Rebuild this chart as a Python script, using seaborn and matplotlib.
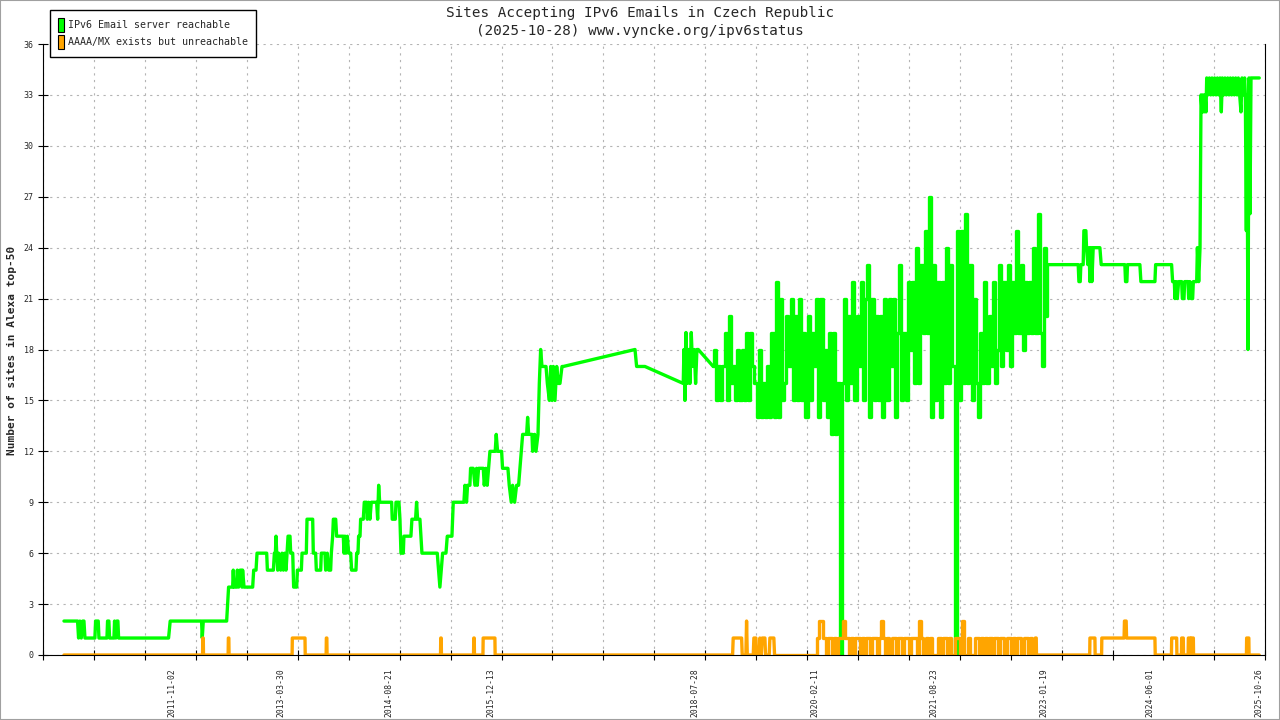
import matplotlib
matplotlib.use("Agg")
import matplotlib.pyplot as plt
import matplotlib.dates as mdates
from matplotlib.patches import Patch, Rectangle
from matplotlib.ticker import FixedLocator, FixedFormatter, NullFormatter
import numpy as np
import pandas as pd
import seaborn as sns

# --- data (x = decimal year, y = number of sites) ---
reach_early = [
    (2010.451, 2), (2010.626, 2), (2010.639, 1), (2010.656, 2), (2010.674, 1), (2010.691, 2), (2010.708, 2), (2010.721, 1),
    (2010.849, 1), (2010.858, 2), (2010.892, 2), (2010.901, 1),
    (2011.004, 1), (2011.012, 2), (2011.029, 2), (2011.038, 1),
    (2011.094, 1), (2011.102, 2), (2011.119, 1), (2011.132, 2), (2011.145, 2), (2011.154, 1),
    (2011.797, 1), (2011.818, 2), (2012.221, 2), (2012.230, 1), (2012.243, 2),
    (2012.543, 2), (2012.556, 3), (2012.568, 4), (2012.620, 4), (2012.628, 5), (2012.637, 4),
    (2012.671, 4), (2012.680, 5), (2012.697, 4), (2012.714, 5), (2012.731, 5), (2012.740, 4), (2012.748, 5), (2012.766, 4),
    (2012.877, 4), (2012.890, 5), (2012.920, 5), (2012.933, 6), (2013.057, 6), (2013.066, 5),
    (2013.143, 5), (2013.156, 6), (2013.169, 6), (2013.177, 7), (2013.186, 6), (2013.199, 5), (2013.211, 6),
    (2013.237, 5), (2013.254, 6), (2013.272, 5), (2013.289, 6), (2013.306, 5), (2013.319, 6), (2013.332, 7),
    (2013.357, 7), (2013.366, 6), (2013.392, 6), (2013.404, 4), (2013.443, 4), (2013.452, 5),
    (2013.503, 5), (2013.512, 6), (2013.567, 6), (2013.576, 8), (2013.649, 8), (2013.657, 6),
    (2013.687, 6), (2013.696, 5), (2013.752, 5), (2013.760, 6), (2013.807, 6), (2013.816, 5), (2013.837, 6), (2013.855, 5),
    (2013.880, 5), (2013.889, 6), (2013.906, 7), (2013.915, 8), (2013.945, 8), (2013.957, 7),
    (2014.043, 7), (2014.052, 6), (2014.065, 7), (2014.078, 6), (2014.095, 7), (2014.112, 6),
    (2014.138, 6), (2014.150, 5), (2014.206, 5), (2014.215, 6), (2014.232, 6), (2014.240, 7), (2014.258, 7), (2014.266, 8),
    (2014.300, 8), (2014.313, 9), (2014.343, 9), (2014.352, 8), (2014.369, 9), (2014.386, 8), (2014.403, 9),
    (2014.429, 9), (2014.472, 9), (2014.485, 8), (2014.498, 10), (2014.511, 9),
    (2014.665, 9), (2014.673, 8), (2014.712, 8), (2014.721, 9), (2014.759, 9), (2014.772, 8), (2014.785, 6),
    (2014.815, 6), (2014.823, 7), (2014.913, 7), (2014.926, 8), (2014.973, 8), (2014.986, 9), (2014.999, 8),
    (2015.029, 8), (2015.042, 7), (2015.055, 6), (2015.252, 6), (2015.269, 5), (2015.286, 4), (2015.304, 5), (2015.321, 6),
    (2015.364, 6), (2015.381, 7), (2015.441, 7), (2015.449, 8), (2015.458, 9),
    (2015.595, 9), (2015.608, 10), (2015.629, 9), (2015.642, 10), (2015.672, 10), (2015.681, 11),
    (2015.715, 11), (2015.737, 10), (2015.758, 11), (2015.767, 10), (2015.784, 11),
    (2015.844, 11), (2015.857, 10), (2015.878, 11), (2015.895, 10), (2015.912, 11), (2015.930, 12),
    (2015.998, 12), (2016.011, 13), (2016.028, 12), (2016.080, 12), (2016.092, 11),
    (2016.161, 11), (2016.178, 10), (2016.204, 9), (2016.221, 10), (2016.247, 9), (2016.272, 10),
    (2016.298, 10), (2016.315, 11), (2016.332, 12), (2016.350, 13), (2016.401, 13), (2016.414, 14), (2016.427, 13),
    (2016.470, 13), (2016.478, 12), (2016.504, 13), (2016.521, 12), (2016.547, 13), (2016.564, 16), (2016.581, 18),
    (2016.598, 17), (2016.650, 17), (2016.667, 16), (2016.693, 15), (2016.710, 17), (2016.727, 15), (2016.744, 17),
    (2016.765, 15), (2016.787, 17), (2016.808, 16),
    (2016.829, 16), (2016.855, 17), (2016.872, 17), (2017.794, 18), (2017.815, 17), (2017.922, 17),
    (2018.415, 16), (2018.424, 18), (2018.437, 15), (2018.450, 19), (2018.467, 16), (2018.484, 18), (2018.501, 16),
    (2018.518, 19), (2018.535, 17), (2018.557, 18), (2018.574, 16), (2018.591, 18), (2018.608, 18), (2018.801, 17),
]

# noisy period, one value every 10 days
reach_dense_start = 2018.810
dense_step_days = 10
reach_dense = [
    18, 15, 17, 15, 17, 19, 15, 20, 16, 17,
    15, 18, 15, 18, 15, 19, 15, 19, 17, 16,
    14, 18, 14, 16, 14, 17, 14, 19, 14, 22,
    14, 21, 15, 16, 20, 17, 21, 15, 20, 15,
    21, 15, 19, 14, 20, 15, 19, 17, 21, 14,
    21, 15, 18, 14, 19, 13, 19, 13, 16, 0,
    16, 21, 15, 20, 16, 22, 15, 20, 17, 22,
    15, 21, 23, 14, 21, 15, 20, 15, 20, 14,
    21, 15, 21, 17, 21, 14, 19, 23, 15, 19,
    15, 22, 18, 22, 16, 24, 16, 23, 19, 25,
    19, 27, 14, 23, 15, 22, 14, 22, 16, 24,
    16, 23, 17, 0, 25, 15, 25, 16, 26, 16,
    23, 15, 21, 16, 14, 19, 16, 22, 16, 20,
    17, 22, 16, 18, 23, 17, 22, 18, 23, 17,
    22, 19, 25, 19, 23, 18, 22, 19, 22, 19,
    24, 19, 26, 19, 17, 24, 20,
]

reach_late = [
    (2023.096, 23), (2023.495, 23), (2023.504, 22), (2023.521, 22), (2023.529, 23), (2023.559, 23), (2023.568, 25), (2023.594, 25),
    (2023.602, 24), (2023.619, 23), (2023.636, 24), (2023.645, 22), (2023.662, 24), (2023.671, 22), (2023.688, 24), (2023.774, 24),
    (2023.791, 23), (2024.095, 23), (2024.104, 22), (2024.121, 22), (2024.129, 23), (2024.288, 23), (2024.301, 22), (2024.481, 22),
    (2024.490, 23), (2024.695, 23), (2024.708, 22), (2024.730, 22), (2024.738, 21), (2024.755, 22), (2024.768, 21), (2024.785, 22),
    (2024.824, 22), (2024.833, 21), (2024.854, 21), (2024.863, 22), (2024.905, 22), (2024.914, 21), (2024.931, 22), (2024.948, 21),
    (2024.965, 21), (2024.974, 22), (2025.017, 22), (2025.026, 24), (2025.043, 22), (2025.060, 24), (2025.073, 33), (2025.086, 32),
    (2025.098, 33), (2025.111, 32), (2025.124, 33), (2025.137, 32), (2025.146, 34), (2025.163, 33), (2025.180, 34), (2025.197, 33),
    (2025.214, 34), (2025.231, 33), (2025.248, 34), (2025.266, 33), (2025.283, 34), (2025.300, 33), (2025.317, 34), (2025.334, 32),
    (2025.347, 34), (2025.364, 33), (2025.381, 34), (2025.398, 33), (2025.416, 34), (2025.433, 33), (2025.450, 34), (2025.467, 33),
    (2025.484, 34), (2025.501, 33), (2025.519, 34), (2025.536, 33), (2025.553, 34), (2025.570, 33), (2025.587, 32), (2025.600, 34),
    (2025.617, 33), (2025.634, 34), (2025.643, 33), (2025.656, 25), (2025.664, 33), (2025.677, 18), (2025.690, 34), (2025.703, 26),
    (2025.716, 34), (2025.822, 34),
]

unreach_early = [
    (2010.451, 0),
    (2012.234, 0), (2012.237, 1), (2012.243, 1), (2012.246, 0),
    (2012.562, 0), (2012.565, 1), (2012.571, 1), (2012.574, 0),
    (2013.384, 0), (2013.387, 1), (2013.550, 1), (2013.553, 0),
    (2013.822, 0), (2013.825, 1), (2013.831, 1), (2013.834, 0),
    (2015.294, 0), (2015.297, 1), (2015.303, 1), (2015.306, 0),
    (2015.719, 0), (2015.722, 1), (2015.728, 1), (2015.731, 0),
    (2015.840, 0), (2015.843, 1), (2015.994, 1), (2015.997, 0),
    (2019.050, 0), (2019.058, 1), (2019.166, 1), (2019.174, 0),
    (2019.221, 0), (2019.230, 2), (2019.239, 0),
    (2019.316, 0), (2019.324, 1), (2019.350, 1), (2019.359, 0),
    (2019.393, 0), (2019.401, 1), (2019.419, 0), (2019.431, 1), (2019.466, 1), (2019.474, 0),
    (2019.521, 0), (2019.530, 1), (2019.581, 1), (2019.590, 0),
]

unreach_dense_start = 2020.109
unreach_dense = [
    0, 1, 2, 2, 1, 0, 1, 1, 0, 1,
    0, 1, 1, 2, 1, 1, 0, 1, 0, 1,
    1, 0, 1, 0, 1, 1, 0, 1, 1, 0,
    1, 2, 1, 0, 1, 0, 1, 1, 0, 1,
    1, 0, 1, 1, 0, 1, 1, 1, 0, 2,
    1, 0, 1, 0, 1, 0, 0, 0, 1, 0,
    1, 1, 0, 1, 0, 0, 1, 1, 0, 2,
    0, 0, 1, 0, 0, 1, 1, 0, 1, 0,
    1, 0, 1, 0, 1, 1, 0, 1, 1, 0,
    1, 1, 0, 1, 0, 1, 1, 0, 1, 1,
    0, 1, 0,
]

unreach_late = [
    (2022.940, 0), (2022.943, 1), (2022.955, 1), (2022.958, 0),
    (2023.643, 0), (2023.646, 1), (2023.710, 1), (2023.713, 0),
    (2023.796, 0), (2023.799, 1), (2024.085, 1), (2024.090, 2), (2024.112, 2), (2024.117, 1), (2024.481, 1), (2024.485, 0),
    (2024.693, 0), (2024.696, 1), (2024.760, 1), (2024.763, 0),
    (2024.821, 0), (2024.824, 1), (2024.845, 1), (2024.848, 0),
    (2024.907, 0), (2024.910, 1), (2024.935, 1), (2024.938, 0), (2024.947, 0), (2024.950, 1), (2024.974, 1), (2024.977, 0),
    (2025.657, 0), (2025.660, 1), (2025.688, 1), (2025.691, 0),
    (2025.822, 0),
]

date_labels = ["2011-11-02", "2013-03-30", "2014-08-21", "2015-12-13", "2018-07-28",
               "2020-02-11", "2021-08-23", "2023-01-19", "2024-06-01", "2025-10-26"]

GREEN = "#00ff00"
ORANGE = "#ffa500"
MONO = ["DejaVu Sans Mono"]


def to_date(y):
    year = int(y)
    start = pd.Timestamp(year=year, month=1, day=1)
    ndays = (pd.Timestamp(year=year + 1, month=1, day=1) - start).days
    return start + pd.Timedelta(days=(y - year) * ndays)


def points(pairs):
    return pd.DataFrame({"date": [to_date(y) for y, _ in pairs],
                         "sites": [v for _, v in pairs]})


def regular(start, values):
    t0 = to_date(start)
    return pd.DataFrame({"date": [t0 + pd.Timedelta(days=dense_step_days * k) for k in range(len(values))],
                         "sites": values})


def draw(early, start, dense, late, color, ax):
    a = points(early)
    b = regular(start, dense)
    c = points(late)
    # join the pieces so the line stays continuous
    b = pd.concat([a.tail(1), b, c.head(1)], ignore_index=True)
    kw = dict(x="date", y="sites", color=color, lw=2.4, estimator=None,
              sort=False, legend=False, ax=ax)
    sns.lineplot(data=a, **kw)
    sns.lineplot(data=b, drawstyle="steps-post", **kw)
    sns.lineplot(data=c, **kw)


sns.set_style("ticks")
plt.rcParams["font.family"] = MONO

fig = plt.figure(figsize=(12.8, 7.2), dpi=100)
ax = fig.add_axes([43.3 / 1280, 1 - 655 / 720, (1265.3 - 43.3) / 1280, (655 - 44) / 720])

draw(reach_early, reach_dense_start, reach_dense, reach_late, GREEN, ax)
draw(unreach_early, unreach_dense_start, unreach_dense, unreach_late, ORANGE, ax)

ax.set_ylim(0, 36)
ax.set_yticks(range(0, 37, 3))
ax.set_xlim(to_date(2010.185), to_date(2025.900))
xmin, xmax = ax.get_xlim()
ax.xaxis.set_major_locator(FixedLocator(np.linspace(xmin, xmax, 25)))
ax.xaxis.set_major_formatter(NullFormatter())
ax.xaxis.set_minor_locator(FixedLocator(mdates.date2num(pd.to_datetime(date_labels))))
ax.xaxis.set_minor_formatter(FixedFormatter(date_labels))

ax.tick_params(axis="x", which="major", direction="inout", length=7, width=0.8, color="black")
ax.tick_params(axis="x", which="minor", length=0, pad=9.5, labelsize=5.8, labelrotation=90)
ax.tick_params(axis="y", which="major", direction="inout", length=7, width=0.8,
               color="black", labelsize=6, pad=3.5)
ax.set_xlabel("")
ax.set_ylabel("")

ax.set_axisbelow(True)
ax.grid(True, which="major", axis="both", color="#b4b4b4", lw=0.8, linestyle=(0, (2, 4)))
ax.spines["top"].set_visible(False)
for side in ("left", "bottom", "right"):
    ax.spines[side].set_color("black")
    ax.spines[side].set_linewidth(0.8)

fig.text(0.5, 1 - 13 / 720, "Sites Accepting IPv6 Emails in Czech Republic",
         ha="center", va="center", fontsize=10.3)
fig.text(0.5, 1 - 31 / 720, "(2025-10-28) www.vyncke.org/ipv6status",
         ha="center", va="center", fontsize=10.3)
fig.text(12 / 1280, 1 - 350 / 720, "Number of sites in Alexa top-50", rotation=90,
         ha="center", va="center", fontsize=8, fontweight="bold")

handles = [Patch(facecolor=GREEN, edgecolor="black", lw=0.8, label="IPv6 Email server reachable"),
           Patch(facecolor=ORANGE, edgecolor="black", lw=0.8, label="AAAA/MX exists but unreachable")]
leg = fig.legend(handles=handles, loc="upper left", bbox_to_anchor=(50 / 1280, 1 - 10 / 720),
                 frameon=True, fancybox=False, edgecolor="black", framealpha=1, fontsize=7.2,
                 handlelength=0.6, handleheight=1.85, handletextpad=0.5, labelspacing=0.3,
                 borderpad=0.75, borderaxespad=0)
leg.get_frame().set_linewidth(1.0)

fig.patches.append(Rectangle((0, 0), 1, 1, transform=fig.transFigure, fill=False,
                             edgecolor="#a0a0a0", lw=1.5))

fig.savefig("out.png", dpi=100, facecolor="white")
